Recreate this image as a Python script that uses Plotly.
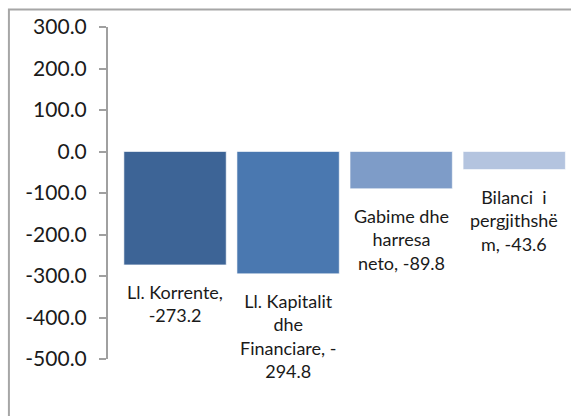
import plotly.graph_objects as go

categories = ["Ll. Korrente", "Ll. Kapitalit dhe Financiare", "Gabime dhe harresa neto", "Bilanci i pergjithshëm"]
values = [-273.2, -294.8, -89.8, -43.6]
label_texts = [
    "Ll. Korrente,<br>-273.2",
    "Ll. Kapitalit<br>dhe<br>Financiare, -<br>294.8",
    "Gabime dhe<br>harresa<br>neto, -89.8",
    "Bilanci  i<br>pergjithshë<br>m, -43.6",
]
bar_colors = ["#3d6496", "#4a78b0", "#7e9cc8", "#b4c4df"]
tick_vals = [300, 200, 100, 0, -100, -200, -300, -400, -500]
tick_text = ["300.0", "200.0", "100.0", "0.0", "-100.0", "-200.0", "-300.0", "-400.0", "-500.0"]

FONT = "Lato"
xpos = list(range(len(categories)))

fig = go.Figure()
fig.add_trace(go.Bar(
    x=xpos, y=values, width=0.905,
    marker=dict(color=bar_colors, line=dict(color="rgba(255,255,255,0.6)", width=1)),
    hoverinfo="skip",
))

for x, v, t in zip(xpos, values, label_texts):
    fig.add_annotation(x=x, y=v, text=t, showarrow=False, xref="x", yref="y",
                       yanchor="top", yshift=-14,
                       font=dict(family=FONT, size=18, color="#1a1a1a"))

fig.add_shape(type="rect", xref="paper", yref="paper",
              x0=-0.214, x1=1.1, y0=-0.4, y1=1.053,
              line=dict(color="#a6a6a6", width=2), layer="below")

fig.update_layout(
    width=571, height=416,
    margin=dict(l=108, r=0, t=27, b=57),
    paper_bgcolor="white", plot_bgcolor="white",
    showlegend=False,
    xaxis=dict(range=[-0.593, 3.502], showline=False, showticklabels=False,
               ticks="", showgrid=False, zeroline=False),
    yaxis=dict(range=[-500, 300], tickvals=tick_vals, ticktext=tick_text,
               showline=True, linecolor="#a0a0a0", linewidth=2,
               ticks="outside", ticklen=7, tickcolor="#a0a0a0", tickwidth=2,
               ticklabelstandoff=8,
               showgrid=False, zeroline=False,
               tickfont=dict(family=FONT, size=21, color="#1a1a1a")),
)

fig.write_html("out.html", config={"displayModeBar": False},
               post_script="document.body.style.margin='0';document.body.style.overflow='hidden';")
